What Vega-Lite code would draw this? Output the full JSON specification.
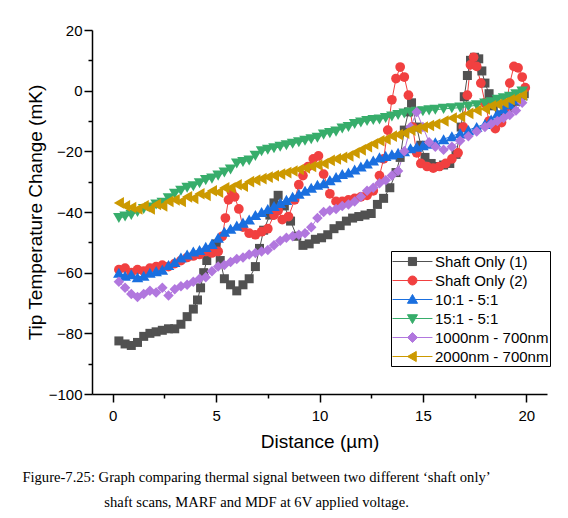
{
  "$schema": "https://vega.github.io/schema/vega-lite/v6.json",
  "width": 455,
  "height": 364,
  "autosize": {"type": "none"},
  "padding": {"left": 92, "top": 30, "right": 21, "bottom": 124},
  "background": "white",
  "title": {
    "text": ["Figure-7.25: Graph comparing thermal signal between two different \u2018shaft only\u2019", "shaft scans, MARF and MDF at 6V applied voltage."],
    "orient": "bottom",
    "anchor": "middle",
    "frame": "group",
    "font": "Liberation Serif",
    "fontSize": 14.6,
    "fontWeight": "normal",
    "color": "black",
    "lineHeight": 25,
    "offset": 19,
    "dx": -63
  },
  "config": {
    "view": {"stroke": null},
    "axis": {
      "grid": false,
      "domainColor": "black",
      "domainWidth": 1.5,
      "tickColor": "black",
      "tickWidth": 1.5,
      "labelColor": "black",
      "titleColor": "black",
      "labelFont": "Liberation Sans",
      "titleFont": "Liberation Sans",
      "labelFontSize": 15,
      "titleFontSize": 19,
      "titleFontWeight": "normal"
    }
  },
  "data": {
    "values": [
      {"series": "Shaft Only (1)", "d": 0.3, "t": -82.5},
      {"series": "Shaft Only (1)", "d": 0.6, "t": -83.5},
      {"series": "Shaft Only (1)", "d": 0.9, "t": -84},
      {"series": "Shaft Only (1)", "d": 1.2, "t": -83},
      {"series": "Shaft Only (1)", "d": 1.5, "t": -81},
      {"series": "Shaft Only (1)", "d": 1.8, "t": -80},
      {"series": "Shaft Only (1)", "d": 2.1, "t": -79.5},
      {"series": "Shaft Only (1)", "d": 2.4, "t": -79},
      {"series": "Shaft Only (1)", "d": 2.7, "t": -78.5},
      {"series": "Shaft Only (1)", "d": 3.0, "t": -78.5},
      {"series": "Shaft Only (1)", "d": 3.3, "t": -77},
      {"series": "Shaft Only (1)", "d": 3.6, "t": -74.5},
      {"series": "Shaft Only (1)", "d": 3.9, "t": -72},
      {"series": "Shaft Only (1)", "d": 4.1, "t": -69},
      {"series": "Shaft Only (1)", "d": 4.25, "t": -65},
      {"series": "Shaft Only (1)", "d": 4.4, "t": -60},
      {"series": "Shaft Only (1)", "d": 4.55, "t": -56},
      {"series": "Shaft Only (1)", "d": 4.8, "t": -53},
      {"series": "Shaft Only (1)", "d": 5.0, "t": -50.5},
      {"series": "Shaft Only (1)", "d": 5.2, "t": -56},
      {"series": "Shaft Only (1)", "d": 5.4, "t": -62},
      {"series": "Shaft Only (1)", "d": 5.7, "t": -64},
      {"series": "Shaft Only (1)", "d": 6.0, "t": -66},
      {"series": "Shaft Only (1)", "d": 6.3, "t": -64},
      {"series": "Shaft Only (1)", "d": 6.6, "t": -62},
      {"series": "Shaft Only (1)", "d": 6.9, "t": -58},
      {"series": "Shaft Only (1)", "d": 7.1, "t": -52},
      {"series": "Shaft Only (1)", "d": 7.3, "t": -46},
      {"series": "Shaft Only (1)", "d": 7.6, "t": -41},
      {"series": "Shaft Only (1)", "d": 7.8, "t": -37},
      {"series": "Shaft Only (1)", "d": 8.0, "t": -34.5},
      {"series": "Shaft Only (1)", "d": 8.3, "t": -38},
      {"series": "Shaft Only (1)", "d": 8.6, "t": -43},
      {"series": "Shaft Only (1)", "d": 8.9, "t": -48},
      {"series": "Shaft Only (1)", "d": 9.2, "t": -51},
      {"series": "Shaft Only (1)", "d": 9.5, "t": -50.5},
      {"series": "Shaft Only (1)", "d": 9.8, "t": -49},
      {"series": "Shaft Only (1)", "d": 10.1, "t": -48.5},
      {"series": "Shaft Only (1)", "d": 10.4, "t": -47.5},
      {"series": "Shaft Only (1)", "d": 10.7, "t": -45.5},
      {"series": "Shaft Only (1)", "d": 11.0, "t": -44.5},
      {"series": "Shaft Only (1)", "d": 11.3, "t": -43},
      {"series": "Shaft Only (1)", "d": 11.6, "t": -42},
      {"series": "Shaft Only (1)", "d": 11.9, "t": -41.5},
      {"series": "Shaft Only (1)", "d": 12.2, "t": -41},
      {"series": "Shaft Only (1)", "d": 12.5, "t": -40.5},
      {"series": "Shaft Only (1)", "d": 12.8, "t": -37.5},
      {"series": "Shaft Only (1)", "d": 13.1, "t": -35.5},
      {"series": "Shaft Only (1)", "d": 13.4, "t": -32},
      {"series": "Shaft Only (1)", "d": 13.7, "t": -27},
      {"series": "Shaft Only (1)", "d": 13.9, "t": -22},
      {"series": "Shaft Only (1)", "d": 14.1, "t": -13},
      {"series": "Shaft Only (1)", "d": 14.3, "t": -7},
      {"series": "Shaft Only (1)", "d": 14.45, "t": -4},
      {"series": "Shaft Only (1)", "d": 14.7, "t": -12},
      {"series": "Shaft Only (1)", "d": 14.9, "t": -18},
      {"series": "Shaft Only (1)", "d": 15.1, "t": -22},
      {"series": "Shaft Only (1)", "d": 15.4, "t": -24},
      {"series": "Shaft Only (1)", "d": 15.7, "t": -25},
      {"series": "Shaft Only (1)", "d": 16.0, "t": -24.5},
      {"series": "Shaft Only (1)", "d": 16.3, "t": -24},
      {"series": "Shaft Only (1)", "d": 16.6, "t": -21},
      {"series": "Shaft Only (1)", "d": 16.85, "t": -12},
      {"series": "Shaft Only (1)", "d": 17.0, "t": -2},
      {"series": "Shaft Only (1)", "d": 17.15, "t": 5},
      {"series": "Shaft Only (1)", "d": 17.3, "t": 10},
      {"series": "Shaft Only (1)", "d": 17.5, "t": 11},
      {"series": "Shaft Only (1)", "d": 17.7, "t": 10.5},
      {"series": "Shaft Only (1)", "d": 17.85, "t": 6.5},
      {"series": "Shaft Only (1)", "d": 18.0, "t": 2.5},
      {"series": "Shaft Only (1)", "d": 18.2, "t": -1},
      {"series": "Shaft Only (1)", "d": 18.4, "t": -5},
      {"series": "Shaft Only (1)", "d": 18.7, "t": -8},
      {"series": "Shaft Only (1)", "d": 19.0, "t": -7},
      {"series": "Shaft Only (1)", "d": 19.3, "t": -5.5},
      {"series": "Shaft Only (1)", "d": 19.6, "t": -3.5},
      {"series": "Shaft Only (1)", "d": 19.9, "t": -1},

      {"series": "Shaft Only (2)", "d": 0.3, "t": -59},
      {"series": "Shaft Only (2)", "d": 0.6, "t": -58.5},
      {"series": "Shaft Only (2)", "d": 0.9, "t": -60},
      {"series": "Shaft Only (2)", "d": 1.2, "t": -59},
      {"series": "Shaft Only (2)", "d": 1.5, "t": -59.5},
      {"series": "Shaft Only (2)", "d": 1.8, "t": -58.5},
      {"series": "Shaft Only (2)", "d": 2.1, "t": -58},
      {"series": "Shaft Only (2)", "d": 2.4, "t": -57.5},
      {"series": "Shaft Only (2)", "d": 2.7, "t": -58},
      {"series": "Shaft Only (2)", "d": 3.0, "t": -57},
      {"series": "Shaft Only (2)", "d": 3.3, "t": -56},
      {"series": "Shaft Only (2)", "d": 3.6, "t": -55},
      {"series": "Shaft Only (2)", "d": 3.9, "t": -54.5},
      {"series": "Shaft Only (2)", "d": 4.2, "t": -54},
      {"series": "Shaft Only (2)", "d": 4.5, "t": -53},
      {"series": "Shaft Only (2)", "d": 4.8, "t": -53.5},
      {"series": "Shaft Only (2)", "d": 5.1, "t": -53},
      {"series": "Shaft Only (2)", "d": 5.3, "t": -48},
      {"series": "Shaft Only (2)", "d": 5.45, "t": -42},
      {"series": "Shaft Only (2)", "d": 5.6, "t": -36},
      {"series": "Shaft Only (2)", "d": 5.75, "t": -33.5},
      {"series": "Shaft Only (2)", "d": 5.9, "t": -35},
      {"series": "Shaft Only (2)", "d": 6.1, "t": -39},
      {"series": "Shaft Only (2)", "d": 6.3, "t": -45},
      {"series": "Shaft Only (2)", "d": 6.6, "t": -47},
      {"series": "Shaft Only (2)", "d": 6.9, "t": -47.5},
      {"series": "Shaft Only (2)", "d": 7.2, "t": -46.5},
      {"series": "Shaft Only (2)", "d": 7.5, "t": -45.5},
      {"series": "Shaft Only (2)", "d": 7.8, "t": -41},
      {"series": "Shaft Only (2)", "d": 8.0, "t": -39.5},
      {"series": "Shaft Only (2)", "d": 8.2, "t": -42.5},
      {"series": "Shaft Only (2)", "d": 8.5, "t": -41.5},
      {"series": "Shaft Only (2)", "d": 8.8, "t": -36},
      {"series": "Shaft Only (2)", "d": 9.0, "t": -31},
      {"series": "Shaft Only (2)", "d": 9.2, "t": -28},
      {"series": "Shaft Only (2)", "d": 9.45, "t": -25},
      {"series": "Shaft Only (2)", "d": 9.7, "t": -22.5},
      {"series": "Shaft Only (2)", "d": 9.95, "t": -21.5},
      {"series": "Shaft Only (2)", "d": 10.2, "t": -27.5},
      {"series": "Shaft Only (2)", "d": 10.5, "t": -34},
      {"series": "Shaft Only (2)", "d": 10.8, "t": -36.5},
      {"series": "Shaft Only (2)", "d": 11.1, "t": -36.5},
      {"series": "Shaft Only (2)", "d": 11.4, "t": -36},
      {"series": "Shaft Only (2)", "d": 11.7, "t": -35.5},
      {"series": "Shaft Only (2)", "d": 12.0, "t": -35},
      {"series": "Shaft Only (2)", "d": 12.3, "t": -34.5},
      {"series": "Shaft Only (2)", "d": 12.6, "t": -33},
      {"series": "Shaft Only (2)", "d": 12.9, "t": -28},
      {"series": "Shaft Only (2)", "d": 13.1, "t": -22.5},
      {"series": "Shaft Only (2)", "d": 13.3, "t": -13},
      {"series": "Shaft Only (2)", "d": 13.5, "t": -3},
      {"series": "Shaft Only (2)", "d": 13.7, "t": 4},
      {"series": "Shaft Only (2)", "d": 13.9, "t": 7.8},
      {"series": "Shaft Only (2)", "d": 14.1, "t": 4.5},
      {"series": "Shaft Only (2)", "d": 14.3, "t": -1.5},
      {"series": "Shaft Only (2)", "d": 14.5, "t": -12},
      {"series": "Shaft Only (2)", "d": 14.7, "t": -20.5},
      {"series": "Shaft Only (2)", "d": 14.9, "t": -24},
      {"series": "Shaft Only (2)", "d": 15.2, "t": -25},
      {"series": "Shaft Only (2)", "d": 15.5, "t": -25.5},
      {"series": "Shaft Only (2)", "d": 15.8, "t": -25},
      {"series": "Shaft Only (2)", "d": 16.1, "t": -24},
      {"series": "Shaft Only (2)", "d": 16.4, "t": -22.5},
      {"series": "Shaft Only (2)", "d": 16.7, "t": -20.5},
      {"series": "Shaft Only (2)", "d": 16.95, "t": -12},
      {"series": "Shaft Only (2)", "d": 17.15, "t": -1.5},
      {"series": "Shaft Only (2)", "d": 17.3, "t": 8.5},
      {"series": "Shaft Only (2)", "d": 17.45, "t": 11},
      {"series": "Shaft Only (2)", "d": 17.6, "t": 8},
      {"series": "Shaft Only (2)", "d": 17.8, "t": 2.5},
      {"series": "Shaft Only (2)", "d": 18.0, "t": -4},
      {"series": "Shaft Only (2)", "d": 18.2, "t": -10},
      {"series": "Shaft Only (2)", "d": 18.5, "t": -12.5},
      {"series": "Shaft Only (2)", "d": 18.8, "t": -10.5},
      {"series": "Shaft Only (2)", "d": 19.0, "t": -6},
      {"series": "Shaft Only (2)", "d": 19.2, "t": 2.5},
      {"series": "Shaft Only (2)", "d": 19.4, "t": 8},
      {"series": "Shaft Only (2)", "d": 19.6, "t": 7.5},
      {"series": "Shaft Only (2)", "d": 19.8, "t": 4.5},
      {"series": "Shaft Only (2)", "d": 19.95, "t": 1},

      {"series": "10:1 - 5:1", "d": 0.3, "t": -60},
      {"series": "10:1 - 5:1", "d": 0.6, "t": -61},
      {"series": "10:1 - 5:1", "d": 0.9, "t": -60.5},
      {"series": "10:1 - 5:1", "d": 1.2, "t": -61.5},
      {"series": "10:1 - 5:1", "d": 1.5, "t": -61},
      {"series": "10:1 - 5:1", "d": 1.8, "t": -60},
      {"series": "10:1 - 5:1", "d": 2.1, "t": -59.5},
      {"series": "10:1 - 5:1", "d": 2.4, "t": -59},
      {"series": "10:1 - 5:1", "d": 2.7, "t": -57.5},
      {"series": "10:1 - 5:1", "d": 3.0, "t": -56.5},
      {"series": "10:1 - 5:1", "d": 3.3, "t": -55},
      {"series": "10:1 - 5:1", "d": 3.6, "t": -54},
      {"series": "10:1 - 5:1", "d": 3.9, "t": -53},
      {"series": "10:1 - 5:1", "d": 4.2, "t": -52.5},
      {"series": "10:1 - 5:1", "d": 4.5, "t": -51.5},
      {"series": "10:1 - 5:1", "d": 4.8, "t": -50.5},
      {"series": "10:1 - 5:1", "d": 5.1, "t": -48.5},
      {"series": "10:1 - 5:1", "d": 5.4, "t": -46.5},
      {"series": "10:1 - 5:1", "d": 5.7, "t": -45.5},
      {"series": "10:1 - 5:1", "d": 6.0, "t": -44.5},
      {"series": "10:1 - 5:1", "d": 6.3, "t": -43.5},
      {"series": "10:1 - 5:1", "d": 6.6, "t": -42.5},
      {"series": "10:1 - 5:1", "d": 6.9, "t": -41},
      {"series": "10:1 - 5:1", "d": 7.2, "t": -40},
      {"series": "10:1 - 5:1", "d": 7.5, "t": -39},
      {"series": "10:1 - 5:1", "d": 7.8, "t": -38},
      {"series": "10:1 - 5:1", "d": 8.1, "t": -37},
      {"series": "10:1 - 5:1", "d": 8.4, "t": -36},
      {"series": "10:1 - 5:1", "d": 8.7, "t": -35},
      {"series": "10:1 - 5:1", "d": 9.0, "t": -34},
      {"series": "10:1 - 5:1", "d": 9.3, "t": -33},
      {"series": "10:1 - 5:1", "d": 9.6, "t": -32},
      {"series": "10:1 - 5:1", "d": 9.9, "t": -31},
      {"series": "10:1 - 5:1", "d": 10.2, "t": -30.5},
      {"series": "10:1 - 5:1", "d": 10.5, "t": -29.5},
      {"series": "10:1 - 5:1", "d": 10.8, "t": -28.5},
      {"series": "10:1 - 5:1", "d": 11.1, "t": -27.5},
      {"series": "10:1 - 5:1", "d": 11.4, "t": -27},
      {"series": "10:1 - 5:1", "d": 11.7, "t": -26},
      {"series": "10:1 - 5:1", "d": 12.0, "t": -25},
      {"series": "10:1 - 5:1", "d": 12.3, "t": -24},
      {"series": "10:1 - 5:1", "d": 12.6, "t": -23},
      {"series": "10:1 - 5:1", "d": 12.9, "t": -22},
      {"series": "10:1 - 5:1", "d": 13.2, "t": -21.5},
      {"series": "10:1 - 5:1", "d": 13.5, "t": -21},
      {"series": "10:1 - 5:1", "d": 13.8, "t": -20.5},
      {"series": "10:1 - 5:1", "d": 14.1, "t": -20},
      {"series": "10:1 - 5:1", "d": 14.4, "t": -19},
      {"series": "10:1 - 5:1", "d": 14.7, "t": -18.5},
      {"series": "10:1 - 5:1", "d": 15.0, "t": -18},
      {"series": "10:1 - 5:1", "d": 15.3, "t": -17.5},
      {"series": "10:1 - 5:1", "d": 15.6, "t": -17},
      {"series": "10:1 - 5:1", "d": 16.0, "t": -16},
      {"series": "10:1 - 5:1", "d": 16.4, "t": -15},
      {"series": "10:1 - 5:1", "d": 16.8, "t": -14},
      {"series": "10:1 - 5:1", "d": 17.2, "t": -13},
      {"series": "10:1 - 5:1", "d": 17.6, "t": -12},
      {"series": "10:1 - 5:1", "d": 18.0, "t": -11},
      {"series": "10:1 - 5:1", "d": 18.3, "t": -9.5},
      {"series": "10:1 - 5:1", "d": 18.6, "t": -7.5},
      {"series": "10:1 - 5:1", "d": 18.9, "t": -6},
      {"series": "10:1 - 5:1", "d": 19.2, "t": -4.5},
      {"series": "10:1 - 5:1", "d": 19.5, "t": -3},
      {"series": "10:1 - 5:1", "d": 19.8, "t": -1.5},

      {"series": "15:1 - 5:1", "d": 0.3, "t": -42},
      {"series": "15:1 - 5:1", "d": 0.6, "t": -41.5},
      {"series": "15:1 - 5:1", "d": 0.9, "t": -41},
      {"series": "15:1 - 5:1", "d": 1.2, "t": -40},
      {"series": "15:1 - 5:1", "d": 1.5, "t": -39},
      {"series": "15:1 - 5:1", "d": 1.8, "t": -38.5},
      {"series": "15:1 - 5:1", "d": 2.1, "t": -37.5},
      {"series": "15:1 - 5:1", "d": 2.4, "t": -37},
      {"series": "15:1 - 5:1", "d": 2.7, "t": -35.5},
      {"series": "15:1 - 5:1", "d": 3.0, "t": -34},
      {"series": "15:1 - 5:1", "d": 3.3, "t": -33},
      {"series": "15:1 - 5:1", "d": 3.6, "t": -32},
      {"series": "15:1 - 5:1", "d": 3.9, "t": -31.5},
      {"series": "15:1 - 5:1", "d": 4.2, "t": -30.5},
      {"series": "15:1 - 5:1", "d": 4.5, "t": -29.5},
      {"series": "15:1 - 5:1", "d": 4.8, "t": -29},
      {"series": "15:1 - 5:1", "d": 5.1, "t": -28},
      {"series": "15:1 - 5:1", "d": 5.4, "t": -27},
      {"series": "15:1 - 5:1", "d": 5.7, "t": -26},
      {"series": "15:1 - 5:1", "d": 6.0, "t": -24},
      {"series": "15:1 - 5:1", "d": 6.3, "t": -23.5},
      {"series": "15:1 - 5:1", "d": 6.6, "t": -23},
      {"series": "15:1 - 5:1", "d": 6.9, "t": -21.5},
      {"series": "15:1 - 5:1", "d": 7.2, "t": -20},
      {"series": "15:1 - 5:1", "d": 7.5, "t": -19.5},
      {"series": "15:1 - 5:1", "d": 7.8, "t": -19},
      {"series": "15:1 - 5:1", "d": 8.1, "t": -18.5},
      {"series": "15:1 - 5:1", "d": 8.4, "t": -18},
      {"series": "15:1 - 5:1", "d": 8.7, "t": -17.5},
      {"series": "15:1 - 5:1", "d": 9.0, "t": -17},
      {"series": "15:1 - 5:1", "d": 9.3, "t": -16.5},
      {"series": "15:1 - 5:1", "d": 9.6, "t": -16},
      {"series": "15:1 - 5:1", "d": 9.9, "t": -15.5},
      {"series": "15:1 - 5:1", "d": 10.2, "t": -14.5},
      {"series": "15:1 - 5:1", "d": 10.5, "t": -14},
      {"series": "15:1 - 5:1", "d": 10.8, "t": -13.5},
      {"series": "15:1 - 5:1", "d": 11.1, "t": -12.5},
      {"series": "15:1 - 5:1", "d": 11.4, "t": -12},
      {"series": "15:1 - 5:1", "d": 11.7, "t": -11},
      {"series": "15:1 - 5:1", "d": 12.0, "t": -10.5},
      {"series": "15:1 - 5:1", "d": 12.3, "t": -10},
      {"series": "15:1 - 5:1", "d": 12.6, "t": -9.7},
      {"series": "15:1 - 5:1", "d": 12.9, "t": -9.5},
      {"series": "15:1 - 5:1", "d": 13.2, "t": -9},
      {"series": "15:1 - 5:1", "d": 13.5, "t": -8.5},
      {"series": "15:1 - 5:1", "d": 13.8, "t": -8},
      {"series": "15:1 - 5:1", "d": 14.1, "t": -7.5},
      {"series": "15:1 - 5:1", "d": 14.4, "t": -7.2},
      {"series": "15:1 - 5:1", "d": 14.7, "t": -7},
      {"series": "15:1 - 5:1", "d": 15.0, "t": -6.8},
      {"series": "15:1 - 5:1", "d": 15.3, "t": -6.5},
      {"series": "15:1 - 5:1", "d": 15.6, "t": -6.3},
      {"series": "15:1 - 5:1", "d": 16.0, "t": -6},
      {"series": "15:1 - 5:1", "d": 16.4, "t": -5.8},
      {"series": "15:1 - 5:1", "d": 16.8, "t": -5.6},
      {"series": "15:1 - 5:1", "d": 17.2, "t": -5.2},
      {"series": "15:1 - 5:1", "d": 17.6, "t": -4.8},
      {"series": "15:1 - 5:1", "d": 18.0, "t": -4.2},
      {"series": "15:1 - 5:1", "d": 18.3, "t": -3.8},
      {"series": "15:1 - 5:1", "d": 18.6, "t": -3},
      {"series": "15:1 - 5:1", "d": 18.9, "t": -2.5},
      {"series": "15:1 - 5:1", "d": 19.2, "t": -2},
      {"series": "15:1 - 5:1", "d": 19.5, "t": -1.2},
      {"series": "15:1 - 5:1", "d": 19.8, "t": -0.3},

      {"series": "1000nm - 700nm", "d": 0.3, "t": -63},
      {"series": "1000nm - 700nm", "d": 0.6, "t": -65},
      {"series": "1000nm - 700nm", "d": 0.9, "t": -67},
      {"series": "1000nm - 700nm", "d": 1.2, "t": -68},
      {"series": "1000nm - 700nm", "d": 1.5, "t": -67},
      {"series": "1000nm - 700nm", "d": 1.8, "t": -66},
      {"series": "1000nm - 700nm", "d": 2.1, "t": -66.5},
      {"series": "1000nm - 700nm", "d": 2.4, "t": -65},
      {"series": "1000nm - 700nm", "d": 2.7, "t": -67.5},
      {"series": "1000nm - 700nm", "d": 3.0, "t": -65.5},
      {"series": "1000nm - 700nm", "d": 3.3, "t": -64.5},
      {"series": "1000nm - 700nm", "d": 3.6, "t": -64},
      {"series": "1000nm - 700nm", "d": 3.9, "t": -63},
      {"series": "1000nm - 700nm", "d": 4.2, "t": -62},
      {"series": "1000nm - 700nm", "d": 4.5, "t": -61.5},
      {"series": "1000nm - 700nm", "d": 4.8, "t": -59.5},
      {"series": "1000nm - 700nm", "d": 5.1, "t": -58},
      {"series": "1000nm - 700nm", "d": 5.4, "t": -57.5},
      {"series": "1000nm - 700nm", "d": 5.7, "t": -56.5},
      {"series": "1000nm - 700nm", "d": 6.0, "t": -55.5},
      {"series": "1000nm - 700nm", "d": 6.3, "t": -55},
      {"series": "1000nm - 700nm", "d": 6.6, "t": -54},
      {"series": "1000nm - 700nm", "d": 6.9, "t": -53.5},
      {"series": "1000nm - 700nm", "d": 7.2, "t": -53},
      {"series": "1000nm - 700nm", "d": 7.5, "t": -52.5},
      {"series": "1000nm - 700nm", "d": 7.8, "t": -51},
      {"series": "1000nm - 700nm", "d": 8.1, "t": -49.5},
      {"series": "1000nm - 700nm", "d": 8.4, "t": -48.5},
      {"series": "1000nm - 700nm", "d": 8.7, "t": -48},
      {"series": "1000nm - 700nm", "d": 9.0, "t": -47.5},
      {"series": "1000nm - 700nm", "d": 9.3, "t": -47},
      {"series": "1000nm - 700nm", "d": 9.6, "t": -45},
      {"series": "1000nm - 700nm", "d": 9.9, "t": -42},
      {"series": "1000nm - 700nm", "d": 10.2, "t": -40},
      {"series": "1000nm - 700nm", "d": 10.5, "t": -39.5},
      {"series": "1000nm - 700nm", "d": 10.8, "t": -39},
      {"series": "1000nm - 700nm", "d": 11.1, "t": -38},
      {"series": "1000nm - 700nm", "d": 11.4, "t": -37.5},
      {"series": "1000nm - 700nm", "d": 11.7, "t": -36.5},
      {"series": "1000nm - 700nm", "d": 12.0, "t": -35},
      {"series": "1000nm - 700nm", "d": 12.3, "t": -33},
      {"series": "1000nm - 700nm", "d": 12.6, "t": -32},
      {"series": "1000nm - 700nm", "d": 12.9, "t": -30.5},
      {"series": "1000nm - 700nm", "d": 13.2, "t": -29.5},
      {"series": "1000nm - 700nm", "d": 13.5, "t": -28},
      {"series": "1000nm - 700nm", "d": 13.8, "t": -26.5},
      {"series": "1000nm - 700nm", "d": 14.1, "t": -20},
      {"series": "1000nm - 700nm", "d": 14.4, "t": -12},
      {"series": "1000nm - 700nm", "d": 14.7, "t": -7},
      {"series": "1000nm - 700nm", "d": 15.0, "t": -12},
      {"series": "1000nm - 700nm", "d": 15.3, "t": -17},
      {"series": "1000nm - 700nm", "d": 15.6, "t": -18.5},
      {"series": "1000nm - 700nm", "d": 16.0, "t": -19.5},
      {"series": "1000nm - 700nm", "d": 16.4, "t": -18.5},
      {"series": "1000nm - 700nm", "d": 16.8, "t": -16.5},
      {"series": "1000nm - 700nm", "d": 17.2, "t": -15},
      {"series": "1000nm - 700nm", "d": 17.6, "t": -13.5},
      {"series": "1000nm - 700nm", "d": 18.0, "t": -12},
      {"series": "1000nm - 700nm", "d": 18.3, "t": -11},
      {"series": "1000nm - 700nm", "d": 18.6, "t": -10},
      {"series": "1000nm - 700nm", "d": 18.9, "t": -9},
      {"series": "1000nm - 700nm", "d": 19.2, "t": -8},
      {"series": "1000nm - 700nm", "d": 19.5, "t": -6.5},
      {"series": "1000nm - 700nm", "d": 19.8, "t": -4},

      {"series": "2000nm - 700nm", "d": 0.3, "t": -37},
      {"series": "2000nm - 700nm", "d": 0.6, "t": -38},
      {"series": "2000nm - 700nm", "d": 0.9, "t": -38.5},
      {"series": "2000nm - 700nm", "d": 1.2, "t": -39},
      {"series": "2000nm - 700nm", "d": 1.5, "t": -38},
      {"series": "2000nm - 700nm", "d": 1.8, "t": -39},
      {"series": "2000nm - 700nm", "d": 2.1, "t": -37.5},
      {"series": "2000nm - 700nm", "d": 2.4, "t": -38},
      {"series": "2000nm - 700nm", "d": 2.7, "t": -36.5},
      {"series": "2000nm - 700nm", "d": 3.0, "t": -36},
      {"series": "2000nm - 700nm", "d": 3.3, "t": -36.5},
      {"series": "2000nm - 700nm", "d": 3.6, "t": -35},
      {"series": "2000nm - 700nm", "d": 3.9, "t": -35.5},
      {"series": "2000nm - 700nm", "d": 4.2, "t": -34},
      {"series": "2000nm - 700nm", "d": 4.5, "t": -34.5},
      {"series": "2000nm - 700nm", "d": 4.8, "t": -33},
      {"series": "2000nm - 700nm", "d": 5.1, "t": -33.5},
      {"series": "2000nm - 700nm", "d": 5.4, "t": -32},
      {"series": "2000nm - 700nm", "d": 5.7, "t": -32},
      {"series": "2000nm - 700nm", "d": 6.0, "t": -31},
      {"series": "2000nm - 700nm", "d": 6.3, "t": -31.5},
      {"series": "2000nm - 700nm", "d": 6.6, "t": -30},
      {"series": "2000nm - 700nm", "d": 6.9, "t": -29.5},
      {"series": "2000nm - 700nm", "d": 7.2, "t": -29},
      {"series": "2000nm - 700nm", "d": 7.5, "t": -28.5},
      {"series": "2000nm - 700nm", "d": 7.8, "t": -28},
      {"series": "2000nm - 700nm", "d": 8.1, "t": -27.5},
      {"series": "2000nm - 700nm", "d": 8.4, "t": -27},
      {"series": "2000nm - 700nm", "d": 8.7, "t": -26.5},
      {"series": "2000nm - 700nm", "d": 9.0, "t": -26},
      {"series": "2000nm - 700nm", "d": 9.3, "t": -25.5},
      {"series": "2000nm - 700nm", "d": 9.6, "t": -25},
      {"series": "2000nm - 700nm", "d": 9.9, "t": -24.5},
      {"series": "2000nm - 700nm", "d": 10.2, "t": -24},
      {"series": "2000nm - 700nm", "d": 10.5, "t": -23},
      {"series": "2000nm - 700nm", "d": 10.8, "t": -22.5},
      {"series": "2000nm - 700nm", "d": 11.1, "t": -22},
      {"series": "2000nm - 700nm", "d": 11.4, "t": -21.5},
      {"series": "2000nm - 700nm", "d": 11.7, "t": -20.5},
      {"series": "2000nm - 700nm", "d": 12.0, "t": -19.5},
      {"series": "2000nm - 700nm", "d": 12.3, "t": -18.5},
      {"series": "2000nm - 700nm", "d": 12.6, "t": -17.5},
      {"series": "2000nm - 700nm", "d": 12.9, "t": -16.5},
      {"series": "2000nm - 700nm", "d": 13.2, "t": -16},
      {"series": "2000nm - 700nm", "d": 13.5, "t": -15},
      {"series": "2000nm - 700nm", "d": 13.8, "t": -14.5},
      {"series": "2000nm - 700nm", "d": 14.1, "t": -14},
      {"series": "2000nm - 700nm", "d": 14.4, "t": -13},
      {"series": "2000nm - 700nm", "d": 14.7, "t": -12.5},
      {"series": "2000nm - 700nm", "d": 15.0, "t": -12},
      {"series": "2000nm - 700nm", "d": 15.3, "t": -11.5},
      {"series": "2000nm - 700nm", "d": 15.6, "t": -11},
      {"series": "2000nm - 700nm", "d": 16.0, "t": -10},
      {"series": "2000nm - 700nm", "d": 16.4, "t": -9},
      {"series": "2000nm - 700nm", "d": 16.8, "t": -8.5},
      {"series": "2000nm - 700nm", "d": 17.2, "t": -7.5},
      {"series": "2000nm - 700nm", "d": 17.6, "t": -6.5},
      {"series": "2000nm - 700nm", "d": 18.0, "t": -6},
      {"series": "2000nm - 700nm", "d": 18.3, "t": -5},
      {"series": "2000nm - 700nm", "d": 18.6, "t": -4.5},
      {"series": "2000nm - 700nm", "d": 18.9, "t": -4},
      {"series": "2000nm - 700nm", "d": 19.2, "t": -3},
      {"series": "2000nm - 700nm", "d": 19.5, "t": -2.5},
      {"series": "2000nm - 700nm", "d": 19.8, "t": -1.5}
    ]
  },
  "encoding": {
    "x": {
      "field": "d",
      "type": "quantitative",
      "title": "Distance (\u00b5m)",
      "scale": {"domain": [-1, 21], "nice": false, "zero": false},
      "axis": {
        "values": [0, 2.5, 5, 7.5, 10, 12.5, 15, 17.5, 20],
        "labelExpr": "datum.value % 5 == 0 ? datum.label : ''",
        "tickSize": {"condition": {"test": "datum.value % 5 != 0", "value": 4}, "value": 8},
        "labelPadding": 6,
        "titlePadding": 9
      }
    },
    "y": {
      "field": "t",
      "type": "quantitative",
      "title": "Tip Temperature Change (mK)",
      "scale": {"domain": [-100, 20], "nice": false, "zero": false},
      "axis": {
        "values": [-100, -90, -80, -70, -60, -50, -40, -30, -20, -10, 0, 10, 20],
        "labelExpr": "datum.value % 20 == 0 ? datum.label : ''",
        "tickSize": {"condition": {"test": "datum.value % 20 != 0", "value": 4}, "value": 8},
        "labelPadding": 2,
        "titlePadding": 3
      }
    },
    "color": {
      "field": "series",
      "type": "nominal",
      "sort": null,
      "scale": {
        "domain": ["Shaft Only (1)", "Shaft Only (2)", "10:1 - 5:1", "15:1 - 5:1", "1000nm - 700nm", "2000nm - 700nm"],
        "range": ["#515151", "#F14040", "#1A6FDF", "#37AD6B", "#B177DE", "#CC9900"]
      },
      "legend": {
        "title": null,
        "orient": "none",
        "legendX": 299,
        "legendY": 221,
        "padding": 1,
        "strokeColor": "black",
        "fillColor": "white",
        "labelFont": "Liberation Sans",
        "labelFontSize": 15,
        "labelColor": "black",
        "labelOffset": 24,
        "rowPadding": 1,
        "symbolSize": 324,
        "symbolStrokeWidth": 1,
        "encode": {
          "symbols": {
            "update": {
              "shape": {"signal": "datum.value === 'Shaft Only (1)' ? 'M-1,0H3.44M0.77,-0.45H1.67V0.45H0.77Z' : datum.value === 'Shaft Only (2)' ? 'M-1,0H3.44M0.72,0A0.5,0.5,0,1,0,1.72,0A0.5,0.5,0,1,0,0.72,0Z' : datum.value === '10:1 - 5:1' ? 'M-1,0H3.44M1.22,-0.56L1.78,0.42L0.66,0.42Z' : datum.value === '15:1 - 5:1' ? 'M-1,0H3.44M1.22,0.56L1.78,-0.42L0.66,-0.42Z' : datum.value === '1000nm - 700nm' ? 'M-1,0H3.44M1.22,-0.55L1.77,0L1.22,0.55L0.67,0Z' : 'M-1,0H3.44M0.66,0L1.64,-0.56L1.64,0.56Z'"},
              "size": {"value": 324},
              "fill": {"scale": "color", "field": "value"},
              "stroke": {"scale": "color", "field": "value"},
              "strokeWidth": {"value": 1},
              "opacity": {"value": 1}
            }
          }
        }
      }
    }
  },
  "layer": [
    {
      "mark": {"type": "line", "strokeWidth": 1}
    },
    {
      "transform": [{"filter": "datum.series === 'Shaft Only (1)'"}],
      "mark": {"type": "point", "shape": "square", "filled": true, "size": 81, "opacity": 1}
    },
    {
      "transform": [{"filter": "datum.series === 'Shaft Only (2)'"}],
      "mark": {"type": "point", "shape": "circle", "filled": true, "size": 95, "opacity": 1}
    },
    {
      "transform": [{"filter": "datum.series === '10:1 - 5:1'"}],
      "mark": {"type": "point", "shape": "triangle-up", "filled": true, "size": 135, "opacity": 1}
    },
    {
      "transform": [{"filter": "datum.series === '15:1 - 5:1'"}],
      "mark": {"type": "point", "shape": "triangle-down", "filled": true, "size": 135, "opacity": 1}
    },
    {
      "transform": [{"filter": "datum.series === '1000nm - 700nm'"}],
      "mark": {"type": "point", "shape": "diamond", "filled": true, "size": 110, "opacity": 1}
    },
    {
      "transform": [{"filter": "datum.series === '2000nm - 700nm'"}],
      "mark": {"type": "point", "shape": "triangle-left", "filled": true, "size": 135, "opacity": 1}
    }
  ]
}
